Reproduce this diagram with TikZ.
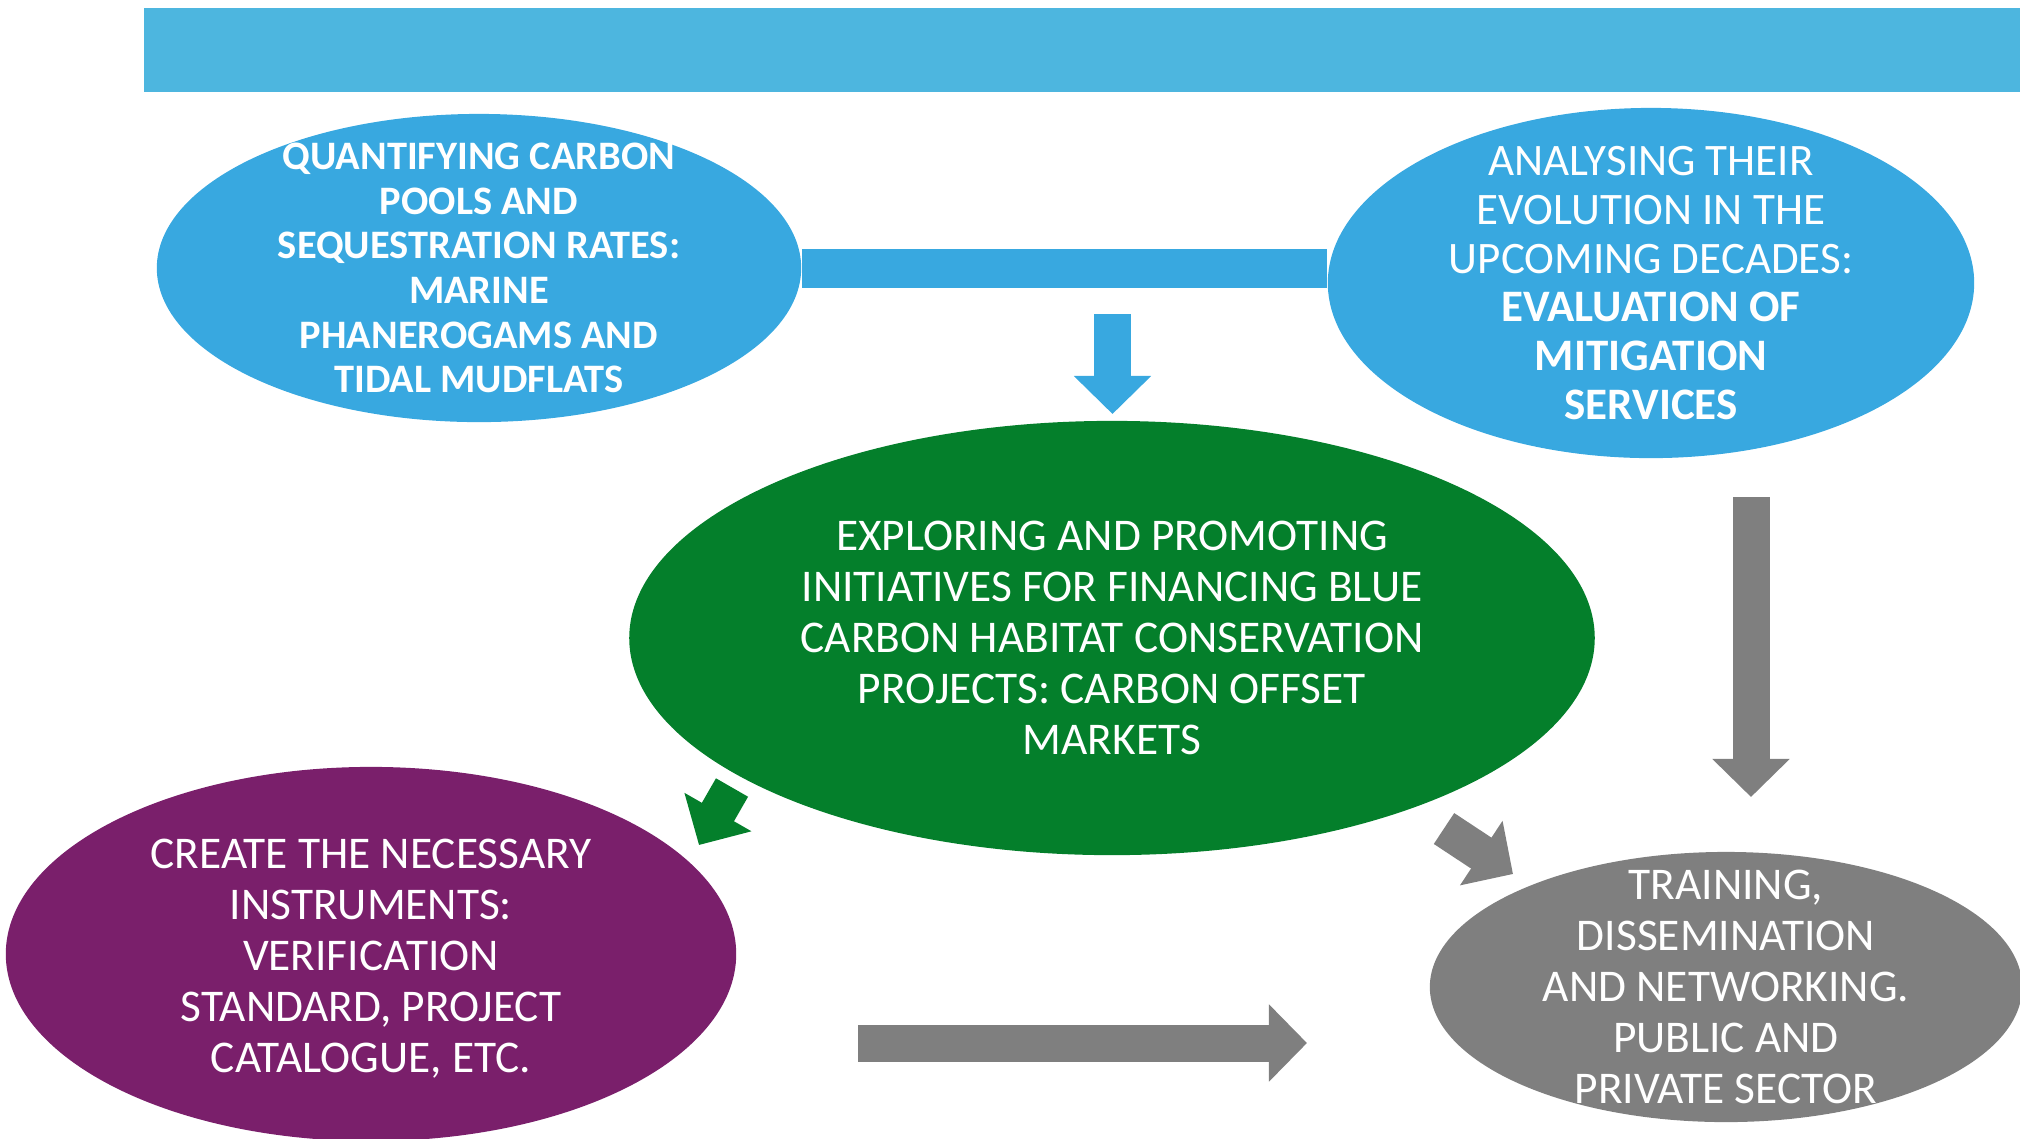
\documentclass[tikz,border=0pt]{standalone}
\usepackage{fontspec}
\setmainfont{Carlito}
\usetikzlibrary{shapes.geometric, arrows.meta}
\definecolor{bannerblue}{HTML}{4DB6DF}
\definecolor{poolblue}{HTML}{38A8E0}
\definecolor{marketgreen}{HTML}{047F2B}
\definecolor{toolpurple}{HTML}{7A1F6B}
\definecolor{outreachgray}{HTML}{7F7F7F}

\begin{document}
\begin{tikzpicture}[x=0.01cm, y=-0.01cm]
        \tikzstyle{blob}=[ellipse, inner sep=0pt];
        \tikzstyle{txt}=[text=white, align=center, inner sep=0pt, font=\fontsize{12.9}{14.5}\selectfont];
        \tikzstyle{block}=[line width=0.37cm, -{Triangle[length=0.38cm, width=0.75cm]}];
        \useasboundingbox (0,0) rectangle (2020,1138);
        \fill[bannerblue] (144,8) rectangle (2020,92);

        \node[blob, fill=poolblue, minimum width=6.44cm, minimum height=3.08cm] (pools) at (479,268) {};
        \node[blob, fill=poolblue, minimum width=6.46cm, minimum height=3.50cm] (evol) at (1651,283) {};
        \node[blob, fill=marketgreen, minimum width=9.65cm, minimum height=4.34cm] (finance) at (1112,638) {};
        \node[blob, fill=toolpurple, minimum width=7.30cm, minimum height=3.74cm] (instr) at (371,954) {};
        \node[blob, fill=outreachgray, minimum width=5.92cm, minimum height=2.70cm] (train) at (1726,987) {};

        \node[txt, font=\bfseries\fontsize{11.5}{12.7}\selectfont] (poolstxt) at (pools) {QUANTIFYING CARBON\\POOLS AND\\SEQUESTRATION RATES:\\MARINE\\PHANEROGAMS AND\\TIDAL MUDFLATS};
        \node[txt, font=\fontsize{12.8}{13.9}\selectfont] (evoltxt) at (evol) {ANALYSING THEIR\\EVOLUTION IN THE\\UPCOMING DECADES:\\\textbf{EVALUATION OF}\\\textbf{MITIGATION}\\\textbf{SERVICES}};
        \node[txt] (financetxt) at (finance) {EXPLORING AND PROMOTING\\INITIATIVES FOR FINANCING BLUE\\CARBON HABITAT CONSERVATION\\PROJECTS: CARBON OFFSET\\MARKETS};
        \node[txt, yshift=-0.05cm] (instrtxt) at (instr) {CREATE THE NECESSARY\\INSTRUMENTS:\\VERIFICATION\\STANDARD, PROJECT\\CATALOGUE, ETC.};
        \node[txt] (traintxt) at (train) {TRAINING,\\DISSEMINATION\\AND NETWORKING.\\PUBLIC AND\\PRIVATE SECTOR};

        \coordinate (down1) at (1112.5,314);
        \coordinate (down1end) at (1112.5,414);
        \coordinate (down2) at (1751,497);
        \coordinate (down2end) at (1751,797);
        \coordinate (across) at (858,1043);
        \coordinate (acrossend) at (1307,1043);
        \coordinate (diag1) at (732,787.5);
        \coordinate (diag1end) at (699,845);
        \coordinate (diag2) at (1444,828.5);
        \coordinate (diag2end) at (1513,874);

        \draw[poolblue, line width=0.39cm] (pools.east) -- (pools.east -| evol.west);
        \path[block]
        (down1) edge[poolblue] (down1end)
        (down2) edge[outreachgray] (down2end)
        (across) edge[outreachgray] (acrossend)
        (diag1) edge[marketgreen] (diag1end)
        (diag2) edge[outreachgray] (diag2end);
\end{tikzpicture}
\end{document}
